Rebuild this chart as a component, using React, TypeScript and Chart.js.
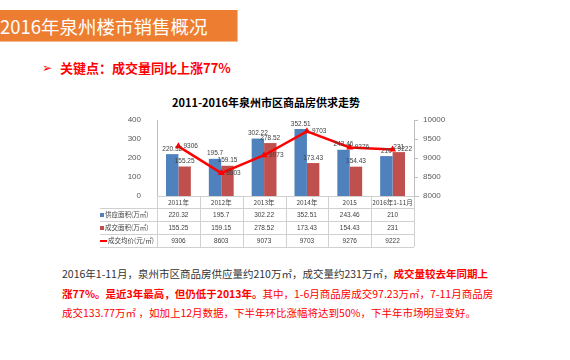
import React, { useEffect, useRef } from "react";
import { Chart, registerables } from "chart.js";
Chart.register(...registerables);

const categories = ["2011年", "2012年", "2013年", "2014年", "2015", "2016年1-11月"];
const supplyArea = [220.32, 195.7, 302.22, 352.51, 243.46, 210];
const dealArea = [155.25, 159.15, 278.52, 173.43, 154.43, 231];
const avgPrice = [9306, 8603, 9073, 9703, 9276, 9222];
const seriesNames = ["供应面积(万㎡)", "成交面积(万㎡)", "成交均价(元/㎡)"];
const seriesColors = ["#4F81BD", "#C0504D", "#FF0000"];

const CJK = '"Noto Sans CJK SC", "Noto Sans", sans-serif';
const NUM = '"Liberation Sans Narrow", "Liberation Sans", Arial, sans-serif';

const labelPlugin = {
  id: "valueLabels",
  afterDatasetsDraw(chart: any) {
    const ctx = chart.ctx;
    ctx.save();
    ctx.font = `6.5px ${NUM}`;
    ctx.fillStyle = "#404040";
    [0, 1].forEach((di) => {
      const meta = chart.getDatasetMeta(di);
      const vals = di === 0 ? supplyArea : dealArea;
      meta.data.forEach((el: any, i: number) => {
        ctx.textAlign = "center";
        ctx.textBaseline = "bottom";
        ctx.fillText(String(vals[i]), el.x, el.y - 2);
      });
    });
    const lm = chart.getDatasetMeta(2);
    lm.data.forEach((el: any, i: number) => {
      ctx.textAlign = "left";
      ctx.textBaseline = "middle";
      ctx.fillText(String(avgPrice[i]), el.x + 5, el.y);
    });
    ctx.restore();
  },
};

const tablePlugin = {
  id: "dataTable",
  afterDraw(chart: any) {
    const ctx = chart.ctx;
    const area = chart.chartArea;
    const xs = chart.scales.x;
    const n = categories.length;
    const colW = (area.right - area.left) / n;
    const rows = [area.bottom, area.bottom + 12, area.bottom + 25, area.bottom + 38, area.bottom + 51];
    ctx.save();
    ctx.strokeStyle = "#D0D0D0";
    ctx.lineWidth = 1;
    ctx.beginPath();
    ctx.moveTo(area.left, Math.round(rows[0]) + 0.5);
    ctx.lineTo(area.right, Math.round(rows[0]) + 0.5);
    for (let r = 1; r < rows.length; r++) {
      ctx.moveTo(0, Math.round(rows[r]) + 0.5);
      ctx.lineTo(area.right, Math.round(rows[r]) + 0.5);
    }
    for (let i = 0; i <= n; i++) {
      const x = Math.round(area.left + i * colW) + 0.5;
      ctx.moveTo(x, rows[0]);
      ctx.lineTo(x, rows[4]);
    }
    ctx.stroke();
    ctx.strokeStyle = "#BFBFBF";
    ctx.beginPath();
    ctx.moveTo(area.right, Math.round(rows[0]) + 0.5);
    ctx.lineTo(area.right + 5, Math.round(rows[0]) + 0.5);
    ctx.stroke();

    ctx.fillStyle = "#404040";
    ctx.textAlign = "center";
    ctx.textBaseline = "middle";
    ctx.font = `6.5px ${CJK}`;
    categories.forEach((c, i) => {
      ctx.fillText(c, xs.getPixelForValue(i), (rows[0] + rows[1]) / 2 + 0.5);
    });
    const tableRows = [supplyArea, dealArea, avgPrice];
    ctx.font = `6.5px ${NUM}`;
    tableRows.forEach((vals, r) => {
      const cy = (rows[r + 1] + rows[r + 2]) / 2 + 0.5;
      vals.forEach((v, i) => {
        ctx.fillText(String(v), xs.getPixelForValue(i), cy);
      });
    });
    ctx.textAlign = "left";
    ctx.font = `6.5px ${CJK}`;
    seriesNames.forEach((name, r) => {
      const cy = (rows[r + 1] + rows[r + 2]) / 2 + 0.5;
      ctx.fillStyle = seriesColors[r];
      if (r < 2) ctx.fillRect(0, cy - 2, 4, 4);
      else ctx.fillRect(0, cy - 1, 7, 2);
      ctx.fillStyle = "#404040";
      ctx.fillText(name, r < 2 ? 5 : 8, cy);
    });
    ctx.restore();
  },
};

function ChartBox() {
  const ref = useRef<HTMLCanvasElement | null>(null);
  useEffect(() => {
    if (!ref.current) return;
    const chart = new Chart(ref.current, {
      type: "bar",
      data: {
        labels: categories,
        datasets: [
          {
            type: "bar",
            label: seriesNames[0],
            data: supplyArea,
            backgroundColor: seriesColors[0],
            barPercentage: 1,
            categoryPercentage: 0.58,
            yAxisID: "y",
            order: 1,
          },
          {
            type: "bar",
            label: seriesNames[1],
            data: dealArea,
            backgroundColor: seriesColors[1],
            barPercentage: 1,
            categoryPercentage: 0.58,
            yAxisID: "y",
            order: 1,
          },
          {
            type: "line",
            label: seriesNames[2],
            data: avgPrice,
            borderColor: seriesColors[2],
            backgroundColor: seriesColors[2],
            borderWidth: 2.5,
            pointStyle: "triangle",
            pointRadius: 4,
            pointBorderWidth: 0,
            pointBackgroundColor: seriesColors[2],
            tension: 0,
            yAxisID: "y1",
            order: 0,
          } as any,
        ],
      },
      options: {
        animation: false,
        responsive: false,
        devicePixelRatio: 1,
        layout: { padding: { top: 35, bottom: 54, left: 0, right: 0 } },
        plugins: { legend: { display: false }, tooltip: { enabled: false }, title: { display: false } },
        scales: {
          x: { display: false },
          y: {
            position: "left",
            min: 0,
            max: 400,
            ticks: { stepSize: 100, padding: 8, color: "#595959", font: { size: 8, family: '"Liberation Sans", Arial, sans-serif' }, callback: (v: any) => String(v) },
            grid: { display: false },
            border: { display: true, color: "#BFBFBF" },
            afterFit: (s: any) => {
              s.width = 57;
            },
          },
          y1: {
            position: "right",
            min: 8000,
            max: 10000,
            ticks: { stepSize: 500, padding: 5, color: "#595959", font: { size: 8, family: '"Liberation Sans", Arial, sans-serif' }, callback: (v: any) => String(v) },
            grid: { drawOnChartArea: false, drawTicks: true, tickLength: 4, color: "#BFBFBF" },
            border: { display: true, color: "#BFBFBF" },
            afterFit: (s: any) => {
              s.width = 46;
            },
          },
        },
      } as any,
      plugins: [labelPlugin, tablePlugin],
    });
    return () => chart.destroy();
  }, []);
  return <canvas ref={ref} width={360} height={165} style={{ position: "absolute", left: 100, top: 85, width: 360, height: 165 }} />;
}

const red = "#FF0000";

export default function App() {
  return (
    <div style={{ position: "absolute", left: 0, top: 0, width: 570, height: 360, overflow: "hidden", background: "#fff", fontFamily: CJK }}>
      <div
        style={{
          position: "absolute",
          left: 0,
          top: 10,
          width: 238,
          height: 32,
          background: "#ED7D31",
          borderBottom: "1px solid #F6B98E",
          borderRight: "1px solid #F6B98E",
          boxSizing: "border-box",
          color: "#fff",
          fontSize: 18.5,
          lineHeight: "32px",
          whiteSpace: "nowrap",
        }}
      >
        2016年泉州楼市销售概况
      </div>
      <div style={{ position: "absolute", left: 42, top: 59, fontSize: 12, lineHeight: "18px", color: red, fontFamily: '"DejaVu Sans", sans-serif' }}>➢</div>
      <div style={{ position: "absolute", left: 60, top: 59, fontSize: 13, lineHeight: "18px", color: red, fontWeight: "bold", whiteSpace: "nowrap" }}>
        关键点：成交量同比上涨77%
      </div>
      <div style={{ position: "absolute", left: 172, top: 94, fontSize: 11, lineHeight: "16px", color: "#000", fontWeight: "bold", whiteSpace: "nowrap" }}>
        2011-2016年泉州市区商品房供求走势
      </div>
      <ChartBox />
      <div style={{ position: "absolute", left: 62, top: 264, fontSize: 10.5, lineHeight: "19px", whiteSpace: "nowrap", color: "#333" }}>
        2016年1-11月，泉州市区商品房供应量约210万㎡，成交量约231万㎡，
        <span style={{ color: red, fontWeight: "bold" }}>成交量较去年同期上</span>
      </div>
      <div style={{ position: "absolute", left: 62, top: 284, fontSize: 10.5, lineHeight: "19px", whiteSpace: "nowrap", color: red }}>
        <span style={{ fontWeight: "bold" }}>涨77%。是近3年最高，但仍低于2013年。</span>其中，1-6月商品房成交97.23万㎡，7-11月商品房
      </div>
      <div style={{ position: "absolute", left: 62, top: 303, fontSize: 10.5, lineHeight: "19px", whiteSpace: "nowrap", color: red }}>
        成交133.77万㎡ ，如加上12月数据，下半年环比涨幅将达到50%，下半年市场明显变好。
      </div>
    </div>
  );
}
